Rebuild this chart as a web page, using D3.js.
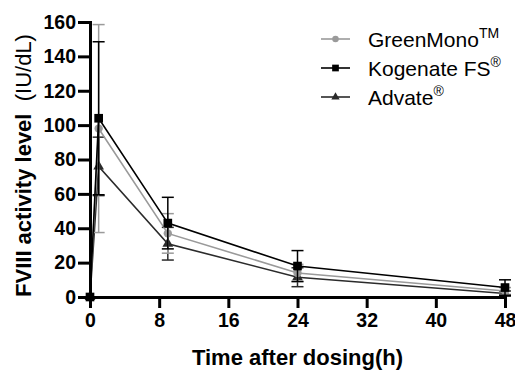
<!DOCTYPE html>
<html>
<head>
<meta charset="utf-8">
<script src="https://cdn.jsdelivr.net/npm/d3@7"></script>
<style>
  body { margin: 0; background: #fff; }
  text { font-family: "Liberation Sans", Arial, sans-serif; }
</style>
</head>
<body>
<svg id="chart"></svg>
<script>
// sampling times (h)
const times = [0, 1, 9, 24, 48];
const xTicks = [0, 8, 16, 24, 32, 40, 48];
const yTicks = [0, 20, 40, 60, 80, 100, 120, 140, 160];

// mean and SD per product
const greenMono = [0, 98, 37, 14, 3.5];
const greenMonoSD = [0, 60.5, 11.5, 5, 2];
const kogenate = [0, 104, 43, 18, 5.5];
const kogenateSD = [0, 44.5, 15, 9, 4.5];
const advate = [0, 76, 31, 11.5, 2];
const advateSD = [0, 17, 9.5, 5.5, 1.5];

const seriesNames = ["GreenMono", "Kogenate FS", "Advate"];
const seriesSup = ["TM", "®", "®"];

const series = [
	{name: seriesNames[0], sup: seriesSup[0], mean: greenMono, sd: greenMonoSD, color: "#9a9a9a", symbol: d3.symbolCircle, size: 55},
	{name: seriesNames[1], sup: seriesSup[1], mean: kogenate, sd: kogenateSD, color: "#000000", symbol: d3.symbolSquare, size: 75},
	{name: seriesNames[2], sup: seriesSup[2], mean: advate, sd: advateSD, color: "#2b2b2b", symbol: d3.symbolTriangle, size: 50}
];

const width = 515, height = 371;
const margin = {top: 22, right: 10, bottom: 74, left: 90};

const svg = d3.select("#chart")
	.attr("width", width)
	.attr("height", height);

const x = d3.scaleLinear().domain([0, 48]).range([margin.left, width - margin.right]);
const y = d3.scaleLinear().domain([0, 160]).range([height - margin.bottom, margin.top]);

// draw order: advate, greenmono, kogenate on top
const drawOrder = [series[2], series[0], series[1]];

drawOrder.forEach(s => {
	const pts = times.map((t, i) => ({t: t, m: s.mean[i], sd: s.sd[i]}));
	const g = svg.append("g");

	// error bars
	const eb = g.selectAll(".eb").data(pts.filter(d => d.sd > 0)).enter().append("g")
		.attr("stroke", s.color)
		.attr("stroke-width", 1.5);
	eb.append("line")
		.attr("x1", d => x(d.t)).attr("x2", d => x(d.t))
		.attr("y1", d => y(d.m + d.sd)).attr("y2", d => y(Math.max(0, d.m - d.sd)));
	eb.append("line")
		.attr("x1", d => x(d.t) - 6).attr("x2", d => x(d.t) + 6)
		.attr("y1", d => y(d.m + d.sd)).attr("y2", d => y(d.m + d.sd));
	eb.append("line")
		.attr("x1", d => x(d.t) - 6).attr("x2", d => x(d.t) + 6)
		.attr("y1", d => y(d.m - d.sd)).attr("y2", d => y(d.m - d.sd));

	g.append("path")
		.datum(pts)
		.attr("fill", "none")
		.attr("stroke", s.color)
		.attr("stroke-width", 1.6)
		.attr("d", d3.line().x(d => x(d.t)).y(d => y(d.m)));

	g.selectAll(".pt").data(pts).enter().append("path")
		.attr("transform", d => `translate(${x(d.t)},${y(d.m)})`)
		.attr("fill", s.color)
		.attr("d", d3.symbol().type(s.symbol).size(s.size));
});

// axes
const xAxis = svg.append("g")
	.attr("transform", `translate(0,${y(0)})`)
	.call(d3.axisBottom(x).tickValues(xTicks).tickSize(11).tickPadding(5).tickSizeOuter(0));
const yAxis = svg.append("g")
	.attr("transform", `translate(${x(0)},0)`)
	.call(d3.axisLeft(y).tickValues(yTicks).tickSize(12).tickPadding(2).tickSizeOuter(0));

[xAxis, yAxis].forEach(a => {
	a.select(".domain").attr("stroke-width", 3).attr("stroke-linecap", "square");
	a.selectAll(".tick line").attr("stroke-width", 3);
	a.selectAll(".tick text")
		.attr("fill", "#000")
		.style("font-size", "19.5px")
		.style("font-weight", "bold");
});

// axis titles
svg.append("text")
	.attr("x", (x(0) + x(48)) / 2)
	.attr("y", 365)
	.attr("text-anchor", "middle")
	.style("font-size", "22px")
	.style("font-weight", "bold")
	.text("Time after dosing(h)");

const yTitle = svg.append("text")
	.attr("transform", `translate(31,${(y(0) + y(160)) / 2 + 6}) rotate(-90)`)
	.attr("text-anchor", "middle")
	.style("font-size", "22px");
yTitle.append("tspan").style("font-weight", "bold").text("FVIII activity level");
yTitle.append("tspan").attr("xml:space", "preserve").text("  (IU/dL)");

// legend
const legend = svg.append("g").attr("transform", "translate(321,39)");
series.forEach((s, i) => {
	const row = legend.append("g").attr("transform", `translate(0,${i * 29})`);
	row.append("line")
		.attr("x1", 0).attr("x2", 29)
		.attr("stroke", s.color).attr("stroke-width", 1.6);
	row.append("path")
		.attr("transform", "translate(14.5,0)")
		.attr("fill", s.color)
		.attr("d", d3.symbol().type(s.symbol).size(s.size * 0.6));
	const t = row.append("text")
		.attr("x", 47).attr("y", 8)
		.style("font-size", "21px")
		.attr("fill", "#000");
	t.append("tspan").text(s.name);
	t.append("tspan").attr("dy", -9).style("font-size", "14px").text(s.sup);
});
</script>
</body>
</html>
